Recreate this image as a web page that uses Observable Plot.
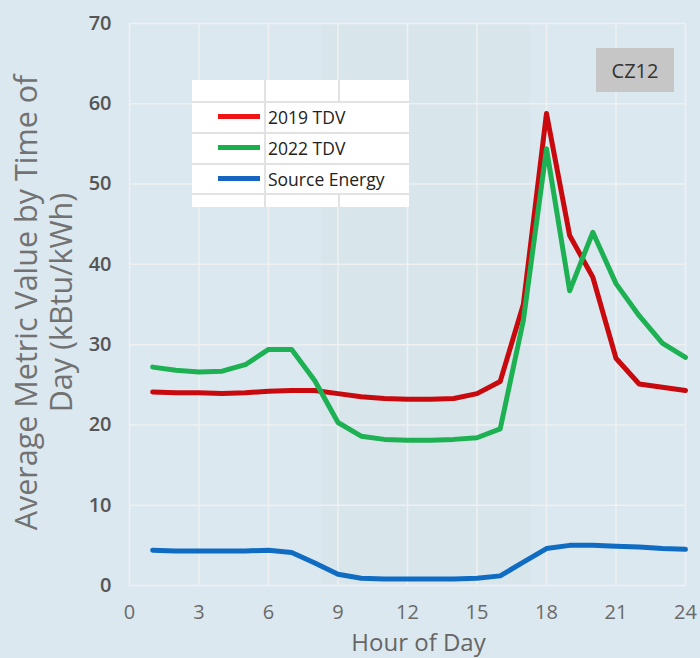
<!DOCTYPE html>
<html>
<head>
<meta charset="utf-8">
<script src="https://cdn.jsdelivr.net/npm/d3@7"></script>
<script src="https://cdn.jsdelivr.net/npm/@observablehq/plot@0.6"></script>
<style>
  html, body { margin: 0; padding: 0; background: #dbe8ef; }
  #wrap { position: relative; width: 700px; height: 658px; overflow: hidden; background: #dbe8ef; font-family: "Open Sans", "Noto Sans", sans-serif; }
  #legend { position: absolute; left: 192px; top: 80px; width: 217px; height: 127px; background: #ffffff; }
  #legend .hl { position: absolute; left: 0; width: 217px; height: 1.5px; background: #e2e2e2; }
  #legend .vl { position: absolute; width: 1.5px; background: #e2e2e2; }
  #legend .sw { position: absolute; left: 26px; width: 42px; height: 5px; }
  #legend .lab { position: absolute; left: 76px; font-size: 17.5px; color: #222; line-height: 20px; white-space: nowrap; }
  #cz { position: absolute; left: 596px; top: 48px; width: 78px; height: 44px; background: #c6c6c6; color: #333; font-size: 20px; display: flex; align-items: center; justify-content: center; }
</style>
</head>
<body>
<div id="wrap"></div>
<script>
// ---- data ----
const hours = [1, 2, 3, 4, 5, 6, 7, 8, 9, 10, 11, 12, 13, 14, 15, 16, 17, 18, 19, 20, 21, 22, 23, 24];
const tdv2019 = [24.1, 24.0, 24.0, 23.9, 24.0, 24.2, 24.3, 24.3, 23.9, 23.5, 23.3, 23.2, 23.2, 23.3, 23.9, 25.4, 35.0, 58.8, 43.6, 38.4, 28.3, 25.1, 24.7, 24.3];
const tdv2022 = [27.2, 26.8, 26.6, 26.7, 27.5, 29.4, 29.4, 25.5, 20.3, 18.6, 18.2, 18.1, 18.1, 18.2, 18.4, 19.5, 33.0, 54.4, 36.7, 44.0, 37.6, 33.6, 30.2, 28.4];
const sourceEnergy = [4.4, 4.3, 4.3, 4.3, 4.3, 4.4, 4.1, 2.8, 1.4, 0.9, 0.8, 0.8, 0.8, 0.8, 0.9, 1.2, 2.9, 4.6, 5.0, 5.0, 4.9, 4.8, 4.6, 4.5];
const seriesNames = ["2019 TDV", "2022 TDV", "Source Energy"];
const lineColors = ["#c80a0f", "#1eb153", "#0f6cc2"];
const legendColors = ["#f01414", "#18b04a", "#1565c0"];
const xTicks = [0, 3, 6, 9, 12, 15, 18, 21, 24];
const yTicks = [0, 10, 20, 30, 40, 50, 60, 70];
const shadedBand = [{from: 8.3, to: 17.3}];
const xTitle = "Hour of Day";
const yTitle = "Average Metric Value by Time of\nDay (kBtu/kWh)";
const panelLabel = "CZ12";

const seriesValues = [tdv2019, tdv2022, sourceEnergy];
const rows = [];
seriesNames.forEach((name, i) => {
  hours.forEach((h, j) => rows.push({series: name, hour: h, value: seriesValues[i][j]}));
});

const chart = Plot.plot({
  width: 700,
  height: 658,
  marginLeft: 129,
  marginRight: 15,
  marginTop: 23,
  marginBottom: 73,
  style: {background: "#dbe8ef", fontFamily: "'Open Sans', 'Noto Sans', sans-serif"},
  x: {domain: [0, 24]},
  y: {domain: [0, 70]},
  color: {domain: seriesNames, range: lineColors},
  marks: [
    Plot.rectX(shadedBand, {x1: "from", x2: "to", fill: "#c9d5da", fillOpacity: 0.13}),
    Plot.gridX(xTicks, {stroke: "#eef0f2", strokeOpacity: 1, strokeWidth: 1.5}),
    Plot.gridY(yTicks, {stroke: "#eef0f2", strokeOpacity: 1, strokeWidth: 1.5}),
    Plot.axisX(xTicks, {tickSize: 0, tickPadding: 19, fontSize: 20, fill: "#6a6a6a", label: null}),
    Plot.axisY(yTicks, {tickSize: 0, tickPadding: 18, fontSize: 20, fill: "#555", fontWeight: 600, label: null}),
    Plot.line(rows, {x: "hour", y: "value", z: "series", stroke: "series", strokeWidth: 5, strokeLinejoin: "round", strokeLinecap: "round"}),
    Plot.text([xTitle], {frameAnchor: "bottom", text: d => d, dy: 58, dx: 11, fontSize: 24, fill: "#666", lineAnchor: "middle"}),
    Plot.text([yTitle], {frameAnchor: "left", text: d => d, dx: -86, dy: -2, rotate: -90, fontSize: 30.5, fill: "#727272", lineHeight: 1.12, textAnchor: "middle", lineAnchor: "middle"})
  ]
});

const wrap = document.getElementById("wrap");
wrap.appendChild(chart);

// legend overlay
const lg = document.createElement("div");
lg.id = "legend";
const hlines = [21, 52, 83, 113];
hlines.forEach(t => { const d = document.createElement("div"); d.className = "hl"; d.style.top = t + "px"; lg.appendChild(d); });
const v1 = document.createElement("div"); v1.className = "vl"; v1.style.left = "72px"; v1.style.top = "0px"; v1.style.height = "127px"; lg.appendChild(v1);
const v2a = document.createElement("div"); v2a.className = "vl"; v2a.style.left = "146px"; v2a.style.top = "0px"; v2a.style.height = "21px"; lg.appendChild(v2a);
const v2b = document.createElement("div"); v2b.className = "vl"; v2b.style.left = "146px"; v2b.style.top = "113px"; v2b.style.height = "14px"; lg.appendChild(v2b);
seriesNames.forEach((name, i) => {
  const top = 21 + i * 31;
  const sw = document.createElement("div"); sw.className = "sw"; sw.style.top = (top + 13) + "px"; sw.style.background = legendColors[i]; lg.appendChild(sw);
  const lb = document.createElement("div"); lb.className = "lab"; lb.style.top = (top + 6) + "px"; lb.textContent = name; lg.appendChild(lb);
});
wrap.appendChild(lg);

const cz = document.createElement("div");
cz.id = "cz";
cz.textContent = panelLabel;
wrap.appendChild(cz);
</script>
</body>
</html>
